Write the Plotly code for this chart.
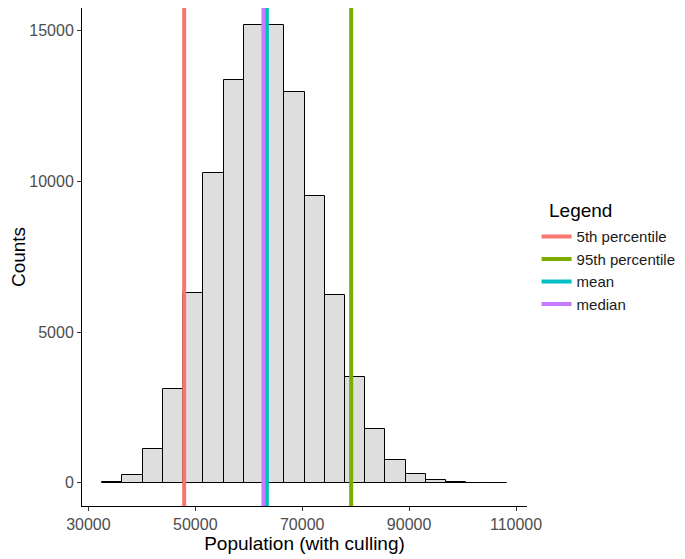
import plotly.graph_objects as go

# histogram bins (left edge of first bin and bin width, in population units)
bin_start = 32590
bin_width = 3784
counts = [40, 256, 1108, 3110, 6286, 10269, 13365, 15181, 15181, 12967,
          9515, 6220, 3518, 1772, 763, 289, 80, 10, 3, 1]

line_names = ["5th percentile", "95th percentile", "mean", "median"]
line_values = [47915, 79160, 63390, 62750]
line_colors = ["#F8766D", "#7CAE00", "#00BFC4", "#C77CFF"]

x_ticks = [30000, 50000, 70000, 90000, 110000]
y_ticks = [0, 5000, 10000, 15000]

centers = [bin_start + bin_width * (i + 0.5) for i in range(len(counts))]
x_lo = bin_start
x_hi = bin_start + bin_width * len(counts)
x_pad = 0.05 * (x_hi - x_lo)

fig = go.Figure()
fig.add_trace(go.Bar(
    x=centers, y=counts, width=bin_width,
    marker=dict(color="#DEDEDE", line=dict(color="black", width=1)),
    showlegend=False, hoverinfo="x+y"
))

for name, val, col in zip(line_names, line_values, line_colors):
    fig.add_trace(go.Scatter(
        x=[val, val], y=[-2000, 18000], mode="lines",
        name=name, line=dict(color=col, width=4)
    ))

# legend title drawn separately so it can sit left of the keys, like ggplot
fig.add_annotation(
    text="Legend", xref="paper", yref="paper",
    x=1.045, y=0.594, xanchor="left", yanchor="middle", showarrow=False,
    font=dict(size=19, color="black")
)

fig.update_layout(
    width=677, height=551,
    paper_bgcolor="white", plot_bgcolor="white",
    margin=dict(l=74, r=158, t=0, b=53, autoexpand=False),
    font=dict(family="Liberation Sans, Arial, sans-serif", color="black"),
    bargap=0,
    legend=dict(
        font=dict(size=15, color="#1a1a1a"),
        x=1.0215, y=0.574, xanchor="left", yanchor="top",
        tracegroupgap=0, itemwidth=30,
    ),
    xaxis=dict(
        range=[x_lo - x_pad, x_hi + x_pad],
        tickvals=x_ticks, ticktext=[str(t) for t in x_ticks],
        showline=True, linecolor="black", linewidth=1,
        ticks="outside", ticklen=4, tickcolor="#333333",
        tickfont=dict(size=16, color="#4D4D4D"),
        showgrid=False, zeroline=False, automargin=False,
        title=dict(text="Population (with culling)", font=dict(size=19), standoff=3),
    ),
    yaxis=dict(
        range=[-773, 15755],
        tickvals=y_ticks, ticktext=[str(t) for t in y_ticks],
        showline=True, linecolor="black", linewidth=1,
        ticks="outside", ticklen=4, tickcolor="#333333",
        tickfont=dict(size=16, color="#4D4D4D"),
        showgrid=False, zeroline=False, automargin=False,
        title=dict(text="Counts", font=dict(size=19), standoff=20),
    ),
)

fig.write_html("out.html")
